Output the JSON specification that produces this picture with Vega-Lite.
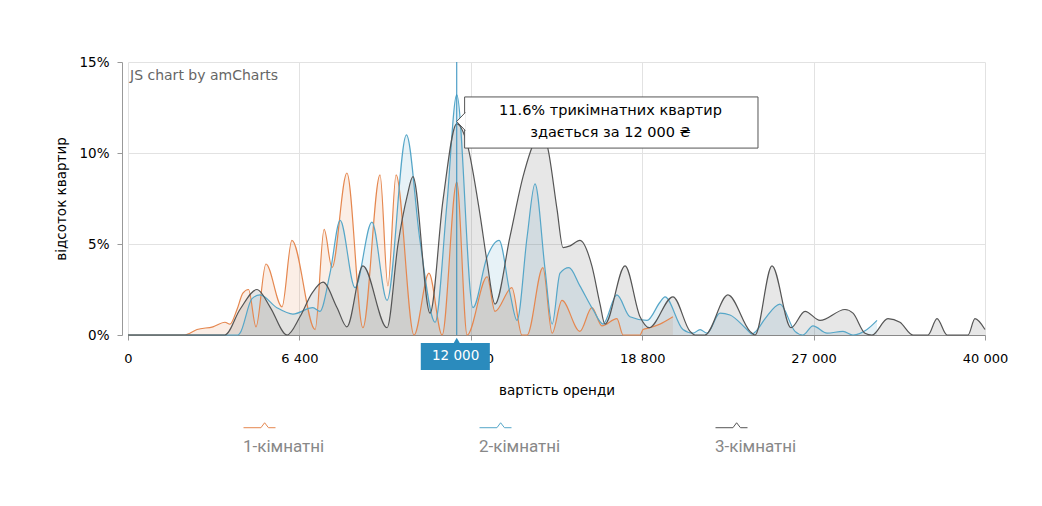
{
  "$schema": "https://vega.github.io/schema/vega-lite/v6.json",
  "width": 857,
  "height": 273,
  "autosize": {"type": "none"},
  "padding": {"left": 128, "top": 62, "right": 57, "bottom": 171},
  "background": "white",
  "config": {
    "view": {"stroke": null},
    "font": "DejaVu Sans",
    "text": {"font": "DejaVu Sans"}
  },
  "datasets": {
    "rent": [
      {"type": "1-кімнатні", "price": 0, "share": 0},
      {"type": "1-кімнатні", "price": 2130, "share": 0},
      {"type": "1-кімнатні", "price": 2310, "share": 0.1},
      {"type": "1-кімнатні", "price": 2580, "share": 0.3},
      {"type": "1-кімнатні", "price": 3170, "share": 0.45},
      {"type": "1-кімнатні", "price": 3620, "share": 0.7},
      {"type": "1-кімнатні", "price": 3810, "share": 0.6},
      {"type": "1-кімнатні", "price": 4070, "share": 1.4},
      {"type": "1-кімнатні", "price": 4290, "share": 2.3},
      {"type": "1-кімнатні", "price": 4500, "share": 2.5},
      {"type": "1-кімнатні", "price": 4780, "share": 0.45},
      {"type": "1-кімнатні", "price": 5150, "share": 3.9},
      {"type": "1-кімнатні", "price": 5750, "share": 1.55},
      {"type": "1-кімнатні", "price": 6120, "share": 5.2},
      {"type": "1-кімнатні", "price": 6960, "share": 0.3},
      {"type": "1-кімнатні", "price": 7280, "share": 5.8},
      {"type": "1-кімнатні", "price": 7560, "share": 3.7},
      {"type": "1-кімнатні", "price": 8090, "share": 8.9},
      {"type": "1-кімнатні", "price": 8660, "share": 0.4},
      {"type": "1-кімнатні", "price": 9270, "share": 8.8},
      {"type": "1-кімнатні", "price": 9550, "share": 2.7},
      {"type": "1-кімнатні", "price": 9840, "share": 8.8},
      {"type": "1-кімнатні", "price": 10480, "share": 0},
      {"type": "1-кімнатні", "price": 11010, "share": 3.4},
      {"type": "1-кімнатні", "price": 11480, "share": 0},
      {"type": "1-кімнатні", "price": 12000, "share": 8.4},
      {"type": "1-кімнатні", "price": 12370, "share": 0},
      {"type": "1-кімнатні", "price": 13100, "share": 3.2},
      {"type": "1-кімнатні", "price": 13390, "share": 1.3},
      {"type": "1-кімнатні", "price": 14010, "share": 2.6},
      {"type": "1-кімнатні", "price": 14380, "share": 0},
      {"type": "1-кімнатні", "price": 14570, "share": 0},
      {"type": "1-кімнатні", "price": 15150, "share": 3.7},
      {"type": "1-кімнатні", "price": 15490, "share": 0.1},
      {"type": "1-кімнатні", "price": 15850, "share": 1.9},
      {"type": "1-кімнатні", "price": 16510, "share": 0.2},
      {"type": "1-кімнатні", "price": 16950, "share": 1.5},
      {"type": "1-кімнатні", "price": 17320, "share": 0.5},
      {"type": "1-кімнатні", "price": 17870, "share": 0.9},
      {"type": "1-кімнатні", "price": 18100, "share": 0},
      {"type": "1-кімнатні", "price": 18720, "share": 0},
      {"type": "1-кімнатні", "price": 18840, "share": 0.3},
      {"type": "1-кімнатні", "price": 19170, "share": 0.4},
      {"type": "1-кімнатні", "price": 19650, "share": 0.6},
      {"type": "1-кімнатні", "price": 20270, "share": 1.0},
      {"type": "2-кімнатні", "price": 0, "share": 0},
      {"type": "2-кімнатні", "price": 4100, "share": 0},
      {"type": "2-кімнатні", "price": 4180, "share": 0.1},
      {"type": "2-кімнатні", "price": 4630, "share": 2.0},
      {"type": "2-кімнатні", "price": 4930, "share": 2.2},
      {"type": "2-кімнатні", "price": 5560, "share": 1.5},
      {"type": "2-кімнатні", "price": 6160, "share": 1.15},
      {"type": "2-кімнатні", "price": 6880, "share": 1.5},
      {"type": "2-кімнатні", "price": 7130, "share": 1.3},
      {"type": "2-кімнатні", "price": 7490, "share": 3.4},
      {"type": "2-кімнатні", "price": 7850, "share": 6.3},
      {"type": "2-кімнатні", "price": 8380, "share": 2.6},
      {"type": "2-кімнатні", "price": 8980, "share": 6.2},
      {"type": "2-кімнатні", "price": 9520, "share": 1.9},
      {"type": "2-кімнатні", "price": 10210, "share": 11.0},
      {"type": "2-кімнатні", "price": 10690, "share": 5.2},
      {"type": "2-кімнатні", "price": 11230, "share": 0.7},
      {"type": "2-кімнатні", "price": 11650, "share": 7.2},
      {"type": "2-кімнатні", "price": 12000, "share": 13.2},
      {"type": "2-кімнатні", "price": 12580, "share": 1.5},
      {"type": "2-кімнатні", "price": 13100, "share": 4.3},
      {"type": "2-кімнатні", "price": 13540, "share": 5.2},
      {"type": "2-кімнатні", "price": 13940, "share": 2.3},
      {"type": "2-кімнатні", "price": 14200, "share": 0.8},
      {"type": "2-кімнатні", "price": 14570, "share": 5.4},
      {"type": "2-кімнатні", "price": 14860, "share": 8.3},
      {"type": "2-кімнатні", "price": 15230, "share": 3.6},
      {"type": "2-кімнатні", "price": 15490, "share": 0.6},
      {"type": "2-кімнатні", "price": 15780, "share": 3.4},
      {"type": "2-кімнатні", "price": 16110, "share": 3.7},
      {"type": "2-кімнатні", "price": 16510, "share": 2.7},
      {"type": "2-кімнатні", "price": 16990, "share": 1.4},
      {"type": "2-кімнатні", "price": 17360, "share": 0.6},
      {"type": "2-кімнатні", "price": 17870, "share": 2.2},
      {"type": "2-кімнатні", "price": 18350, "share": 1.0},
      {"type": "2-кімнатні", "price": 19030, "share": 0.8},
      {"type": "2-кімнатні", "price": 19650, "share": 1.8},
      {"type": "2-кімнатні", "price": 19890, "share": 2.1},
      {"type": "2-кімнатні", "price": 20750, "share": 0.3},
      {"type": "2-кімнатні", "price": 21230, "share": 0.1},
      {"type": "2-кімнатні", "price": 21570, "share": 0.3},
      {"type": "2-кімнатні", "price": 21900, "share": 0.1},
      {"type": "2-кімнатні", "price": 22520, "share": 1.2},
      {"type": "2-кімнатні", "price": 23000, "share": 1.1},
      {"type": "2-кімнатні", "price": 23810, "share": 0.3},
      {"type": "2-кімнатні", "price": 24050, "share": 0.05},
      {"type": "2-кімнатні", "price": 24240, "share": 0.2},
      {"type": "2-кімнатні", "price": 24680, "share": 0.9},
      {"type": "2-кімнатні", "price": 25390, "share": 1.7},
      {"type": "2-кімнатні", "price": 26110, "share": 0.2},
      {"type": "2-кімнатні", "price": 26490, "share": 0},
      {"type": "2-кімнатні", "price": 26970, "share": 0.5},
      {"type": "2-кімнатні", "price": 28020, "share": 0.1},
      {"type": "2-кімнатні", "price": 29230, "share": 0.2},
      {"type": "2-кімнатні", "price": 29990, "share": 0},
      {"type": "2-кімнатні", "price": 31050, "share": 0.3},
      {"type": "2-кімнатні", "price": 31810, "share": 0.8},
      {"type": "3-кімнатні", "price": 0, "share": 0},
      {"type": "3-кімнатні", "price": 3620, "share": 0},
      {"type": "3-кімнатні", "price": 4180, "share": 1.4},
      {"type": "3-кімнатні", "price": 4820, "share": 2.5},
      {"type": "3-кімнатні", "price": 5300, "share": 1.55},
      {"type": "3-кімнатні", "price": 5940, "share": 0},
      {"type": "3-кімнатні", "price": 6420, "share": 1.0},
      {"type": "3-кімнатні", "price": 6850, "share": 2.3},
      {"type": "3-кімнатні", "price": 7240, "share": 2.9},
      {"type": "3-кімнатні", "price": 7740, "share": 1.5},
      {"type": "3-кімнатні", "price": 8090, "share": 0.45},
      {"type": "3-кімнатні", "price": 8660, "share": 3.8},
      {"type": "3-кімнатні", "price": 9520, "share": 0.4},
      {"type": "3-кімнатні", "price": 9910, "share": 5.0},
      {"type": "3-кімнатні", "price": 10230, "share": 7.6},
      {"type": "3-кімнатні", "price": 10440, "share": 8.7},
      {"type": "3-кімнатні", "price": 11050, "share": 1.2},
      {"type": "3-кімнатні", "price": 11510, "share": 7.4},
      {"type": "3-кімнатні", "price": 12000, "share": 11.6},
      {"type": "3-кімнатні", "price": 12370, "share": 10.5},
      {"type": "3-кімнатні", "price": 12840, "share": 6.6},
      {"type": "3-кімнатні", "price": 13100, "share": 4.0},
      {"type": "3-кімнатні", "price": 13390, "share": 1.7},
      {"type": "3-кімнатні", "price": 13940, "share": 5.4},
      {"type": "3-кімнатні", "price": 14420, "share": 8.7},
      {"type": "3-кімнатні", "price": 14930, "share": 10.9},
      {"type": "3-кімнатні", "price": 15120, "share": 11.2},
      {"type": "3-кімнатні", "price": 15340, "share": 10.2},
      {"type": "3-кімнатні", "price": 15670, "share": 6.9},
      {"type": "3-кімнатні", "price": 15890, "share": 4.8},
      {"type": "3-кімнатні", "price": 16150, "share": 4.9},
      {"type": "3-кімнатні", "price": 16510, "share": 5.2},
      {"type": "3-кімнатні", "price": 16950, "share": 3.8},
      {"type": "3-кімнатні", "price": 17250, "share": 1.7},
      {"type": "3-кімнатні", "price": 17430, "share": 0.6},
      {"type": "3-кімнатні", "price": 18170, "share": 3.8},
      {"type": "3-кімнатні", "price": 18720, "share": 1.0},
      {"type": "3-кімнатні", "price": 19130, "share": 0.4},
      {"type": "3-кімнатні", "price": 20270, "share": 2.1},
      {"type": "3-кімнатні", "price": 21090, "share": 0.2},
      {"type": "3-кімнатні", "price": 21330, "share": 0},
      {"type": "3-кімнатні", "price": 21800, "share": 0},
      {"type": "3-кімнатні", "price": 22900, "share": 2.2},
      {"type": "3-кімнатні", "price": 23960, "share": 0.2},
      {"type": "3-кімнатні", "price": 24200, "share": 0},
      {"type": "3-кімнатні", "price": 25010, "share": 3.8},
      {"type": "3-кімнатні", "price": 25920, "share": 0.4},
      {"type": "3-кімнатні", "price": 26590, "share": 1.3},
      {"type": "3-кімнатні", "price": 27490, "share": 0.8},
      {"type": "3-кімнатні", "price": 29380, "share": 1.4},
      {"type": "3-кімнатні", "price": 29990, "share": 1.2},
      {"type": "3-кімнатні", "price": 30900, "share": 0.1},
      {"type": "3-кімнатні", "price": 31430, "share": 0},
      {"type": "3-кімнатні", "price": 32640, "share": 0.9},
      {"type": "3-кімнатні", "price": 33550, "share": 0.7},
      {"type": "3-кімнатні", "price": 34540, "share": 0},
      {"type": "3-кімнатні", "price": 35680, "share": 0},
      {"type": "3-кімнатні", "price": 36360, "share": 0.9},
      {"type": "3-кімнатні", "price": 37120, "share": 0},
      {"type": "3-кімнатні", "price": 38100, "share": 0},
      {"type": "3-кімнатні", "price": 38710, "share": 0},
      {"type": "3-кімнатні", "price": 39240, "share": 0.9},
      {"type": "3-кімнатні", "price": 40000, "share": 0.3}
    ]
  },
  "data": {"name": "rent"},
  "layer": [
    {
      "mark": {"type": "area", "interpolate": "monotone", "fillOpacity": 0.14},
      "encoding": {
        "x": {
          "field": "price",
          "type": "quantitative",
          "scale": {
            "domain": [0, 6400, 12500, 18800, 27000, 40000],
            "range": [0, 171.4, 342.8, 514.2, 685.6, 857],
            "nice": false,
            "zero": false
          },
          "axis": {
            "values": [0, 6400, 12500, 18800, 27000, 40000],
            "labelExpr": "replace(format(datum.value, ','), ',', ' ')",
            "title": "вартість оренди",
            "grid": true,
            "gridColor": "#e2e2e2",
            "tickSize": 5,
            "tickColor": "#999999",
            "domainColor": "#888888",
            "labelPadding": 12,
            "labelFontSize": 13,
            "labelColor": "#000000",
            "labelFlush": false,
            "labelOverlap": false,
            "titleFontSize": 13.5,
            "titleFontWeight": "normal",
            "titleColor": "#000000",
            "titlePadding": 18
          }
        },
        "y": {
          "field": "share",
          "type": "quantitative",
          "stack": null,
          "scale": {"domain": [0, 15], "nice": false},
          "axis": {
            "values": [0, 5, 10, 15],
            "labelExpr": "datum.value + '%'",
            "title": "відсоток квартир",
            "offset": 6,
            "grid": true,
            "gridColor": "#e2e2e2",
            "tickSize": 5,
            "tickColor": "#999999",
            "domainColor": "#999999",
            "labelPadding": 8,
            "labelFontSize": 13.5,
            "labelColor": "#000000",
            "titleFontSize": 13.5,
            "titleFontWeight": "normal",
            "titleColor": "#000000",
            "titlePadding": 10
          }
        },
        "color": {
          "field": "type",
          "type": "nominal",
          "scale": {"domain": ["1-кімнатні", "2-кімнатні", "3-кімнатні"], "range": ["#e5874f", "#55a6c8", "#555555"]},
          "legend": {
            "title": null,
            "orient": "none",
            "legendX": 115,
            "legendY": 368,
            "direction": "horizontal",
            "columns": 3,
            "columnPadding": 152,
            "gridAlign": "all",
            "symbolType": "M-1,-1.19 L0.09,-1.19 L0.32,-1.5 L0.56,-1.19 L1,-1.19",
            "symbolSize": 1024,
            "symbolStrokeWidth": 1,
            "symbolOpacity": 1,
            "labelFont": "Roboto",
            "labelFontSize": 17,
            "labelColor": "#888888",
            "labelOffset": -33,
            "encode": {
              "symbols": {
                "update": {
                  "fill": {"value": "transparent"},
                  "stroke": {"scale": "color", "field": "value"},
                  "fillOpacity": {"value": 0},
                  "strokeOpacity": {"value": 1}
                }
              }
            }
          }
        }
      }
    },
    {
      "mark": {"type": "line", "interpolate": "monotone", "strokeWidth": 1.2},
      "encoding": {
        "x": {"field": "price", "type": "quantitative"},
        "y": {"field": "share", "type": "quantitative"},
        "color": {"field": "type", "type": "nominal"}
      }
    },
    {
      "data": {"values": [{}]},
      "mark": {"type": "text", "text": "JS chart by amCharts", "align": "left", "baseline": "middle", "fontSize": 14, "color": "#666666"},
      "encoding": {"x": {"datum": 75, "type": "quantitative"}, "y": {"datum": 14.25, "type": "quantitative"}}
    },
    {
      "data": {"values": [{}]},
      "mark": {"type": "rule", "color": "#2b8bbd", "strokeWidth": 1},
      "encoding": {"x": {"datum": 12000, "type": "quantitative"}, "y": {"datum": 0, "type": "quantitative"}, "y2": {"datum": 15}}
    },
    {
      "data": {"values": [{}]},
      "mark": {"type": "rect", "fill": "white", "stroke": "#555555", "strokeWidth": 1},
      "encoding": {"x": {"datum": 12280, "type": "quantitative"}, "x2": {"datum": 24340}, "y": {"datum": 13.08, "type": "quantitative"}, "y2": {"datum": 10.27}}
    },
    {
      "data": {"values": [{}]},
      "mark": {"type": "point", "shape": "M1.3,-2.4 L-1,0 L1.3,2.4", "size": 56, "filled": true, "fill": "white", "stroke": "#555555", "strokeWidth": 1, "opacity": 1},
      "encoding": {"x": {"datum": 12130, "type": "quantitative"}, "y": {"datum": 11.73, "type": "quantitative"}}
    },
    {
      "data": {"values": [{}]},
      "mark": {"type": "text", "text": "11.6% трикімнатних квартир", "align": "center", "baseline": "middle", "fontSize": 14.5, "color": "#000000"},
      "encoding": {"x": {"datum": 17635, "type": "quantitative"}, "y": {"datum": 12.31, "type": "quantitative"}}
    },
    {
      "data": {"values": [{}]},
      "mark": {"type": "text", "text": "здається за 12 000 ₴", "align": "center", "baseline": "middle", "fontSize": 14.5, "color": "#000000"},
      "encoding": {"x": {"datum": 17635, "type": "quantitative"}, "y": {"datum": 11.1, "type": "quantitative"}}
    },
    {
      "data": {"values": [{}]},
      "mark": {"type": "rect", "fill": "#2b8bbd"},
      "encoding": {"x": {"datum": 10720, "type": "quantitative"}, "x2": {"datum": 13200}, "y": {"datum": -0.44, "type": "quantitative"}, "y2": {"datum": -1.92}}
    },
    {
      "data": {"values": [{}]},
      "mark": {"type": "point", "shape": "triangle-up", "size": 40, "filled": true, "color": "#2b8bbd", "opacity": 1},
      "encoding": {"x": {"datum": 12000, "type": "quantitative"}, "y": {"datum": -0.3, "type": "quantitative"}}
    },
    {
      "data": {"values": [{}]},
      "mark": {"type": "text", "text": "12 000", "align": "center", "baseline": "middle", "fontSize": 13.5, "color": "white"},
      "encoding": {"x": {"datum": 11960, "type": "quantitative"}, "y": {"datum": -1.18, "type": "quantitative"}}
    }
  ]
}
